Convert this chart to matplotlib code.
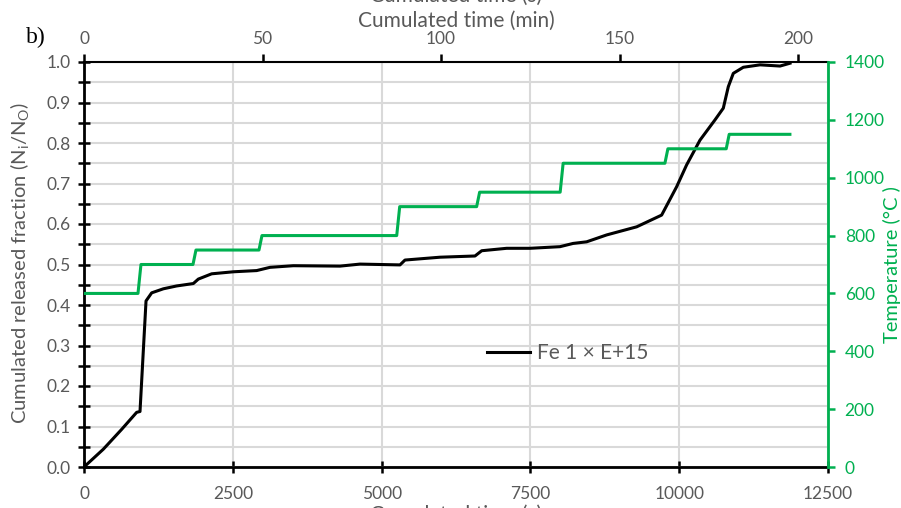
import matplotlib
matplotlib.use('Agg')
import matplotlib.pyplot as plt
import numpy as np
from matplotlib.lines import Line2D

plt.rcParams['font.family'] = ['Lato', 'DejaVu Sans']

# release curve, Fe 1 x E+15
time_s = [0, 325, 633, 885, 941, 1042, 1137, 1333, 1556, 1837, 1921, 2145, 2509,
          2901, 3125, 3517, 4301, 4637, 5309, 5393, 5981, 6569, 6682, 7101, 7493,
          7997, 8216, 8445, 8781, 9285, 9705, 9957, 10125, 10349, 10601, 10741,
          10825, 10909, 11077, 11358, 11694, 11862]
fraction = [0, 0.044, 0.093, 0.135, 0.137, 0.41, 0.43, 0.44, 0.447, 0.453, 0.464,
            0.477, 0.482, 0.485, 0.493, 0.497, 0.496, 0.501, 0.499, 0.511, 0.518,
            0.521, 0.534, 0.540, 0.540, 0.544, 0.552, 0.556, 0.573, 0.593, 0.622,
            0.692, 0.746, 0.807, 0.857, 0.886, 0.939, 0.972, 0.987, 0.993, 0.990,
            0.997]

# temperature program
temp_levels = [600, 700, 750, 800, 900, 950, 1050, 1100, 1150]
step_times = [907, 1831, 2940, 5254, 6597, 8000, 9760, 10790]
end_time = 11860

ramp = 50
temp_t = [0]
temp_v = [temp_levels[0]]
for i, ts in enumerate(step_times):
    temp_t += [ts, ts + ramp]
    temp_v += [temp_levels[i], temp_levels[i + 1]]
temp_t.append(end_time)
temp_v.append(temp_levels[-1])

GREEN = '#00B050'
GRAY = '#595959'

fig = plt.figure(figsize=(9.01, 5.08), dpi=100)
ax = fig.add_axes([84 / 901, 1 - 467 / 508, 744 / 901, 405 / 508])
ax2 = ax.twinx()

ax.set_xlim(0, 12500)
ax.set_ylim(0, 1.0)
ax.set_xticks(np.arange(0, 12501, 2500))
ax.set_yticks(np.arange(0, 1.01, 0.1))
ax.set_yticks(np.arange(0.05, 1.0, 0.1), minor=True)
ax.yaxis.set_major_formatter(matplotlib.ticker.FormatStrFormatter('%.1f'))
ax.grid(True, which='both', axis='y', color='#D9D9D9', lw=1.5)
ax.grid(True, which='major', axis='x', color='#D9D9D9', lw=1.5)
ax.set_axisbelow(True)

ax.plot(time_s, fraction, color='black', lw=2.2, zorder=3)
ax2.plot(temp_t, temp_v, color=GREEN, lw=2.2)
ax2.set_ylim(0, 1400)
ax2.set_yticks(np.arange(0, 1401, 200))

for s in ['left', 'bottom']:
    ax.spines[s].set_linewidth(2)
    ax.spines[s].set_color('black')
ax.spines['top'].set_linewidth(1.5)
ax.spines['right'].set_visible(False)
ax2.spines['left'].set_visible(False)
ax2.spines['bottom'].set_visible(False)
ax2.spines['top'].set_visible(False)
ax2.spines['right'].set_color(GREEN)
ax2.spines['right'].set_linewidth(2)

ax.tick_params(axis='both', which='both', direction='inout', length=9, width=1.8,
               color='black', labelcolor=GRAY, labelsize=12.5)
ax.tick_params(axis='y', pad=5)
ax.tick_params(axis='x', pad=9)
ax2.tick_params(axis='y', direction='out', length=5, width=1.8, color=GREEN,
                labelcolor=GREEN, labelsize=12.5, pad=7)

top = ax.secondary_xaxis('top', functions=(lambda s: s / 60.0, lambda m: m * 60.0))
top.set_xticks(np.arange(0, 201, 50))
top.tick_params(direction='out', length=6, width=1.8, color='black',
                labelcolor=GRAY, labelsize=12.5, pad=5)
top.spines['top'].set_visible(False)
top.set_xlabel('Cumulated time (min)', color=GRAY, fontsize=15, labelpad=3)

ax.set_ylabel('Cumulated released fraction (N$_\\mathregular{i}$/N$_\\mathregular{O}$)',
              color=GRAY, fontsize=14.5)
ax.yaxis.set_label_coords(-0.07, 0.505)
ax2.set_ylabel('Temperature (°C )', color=GREEN, fontsize=14.5)
ax2.yaxis.set_label_coords(1.074, 0.5)

# cut-off axis titles at top and bottom edges
fig.text(456 / 901, 1.008, 'Cumulated time (s)', color=GRAY, fontsize=15,
         ha='center', va='center')
fig.text(456 / 901, -0.013, 'Cumulated time (s)', color=GRAY, fontsize=15,
         ha='center', va='center')
fig.text(36 / 901, 1 - 37 / 508, 'b)', family='Liberation Serif', fontsize=17,
         ha='center', va='center')

handle = Line2D([], [], color='black', lw=2.2)
ax.legend([handle], ['Fe 1 × E+15'], loc='center left', frameon=False,
          bbox_to_anchor=(0.53, 0.281), fontsize=15, labelcolor=GRAY,
          handlelength=2.1, handletextpad=0.3, borderaxespad=0)

fig.savefig('out.png', dpi=100)
